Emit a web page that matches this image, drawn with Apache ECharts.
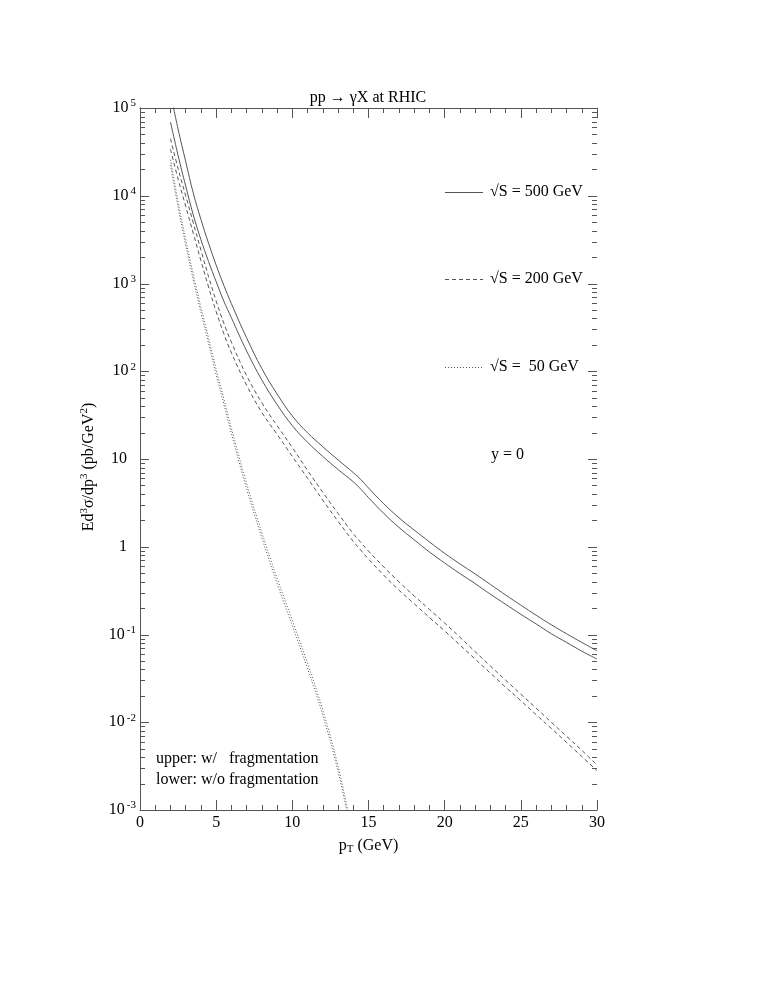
<!DOCTYPE html>
<html lang="en">
<head>
<meta charset="UTF-8">
<title>pp -> gamma X at RHIC</title>
<script src="https://cdn.jsdelivr.net/npm/echarts@6/dist/echarts.min.js"></script>
<style>
  html, body { margin: 0; padding: 0; background: #fff; }
</style>
</head>
<body>
<div id="main" style="width: 758px;height: 981px;"></div>
<script>
// pT grid (GeV) for 500 and 200 GeV curves
var pT = [2, 2.5, 3, 3.5, 4, 4.5, 5, 5.5, 6, 7, 8, 9, 10, 11, 12, 13, 14, 14.5, 15,
          16, 17, 18, 19, 20, 21, 22, 23, 24, 25, 26, 27, 28, 29, 30];
// pT grid for the 50 GeV curves (they leave the frame near 13.6 GeV)
var pT50 = [2, 2.5, 3, 3.5, 4, 4.5, 5, 5.5, 6, 7, 8, 9, 10, 11, 12, 13, 14];

// Ed3sigma/dp3 (pb/GeV^2), upper = with fragmentation, lower = without
var s500Upper = [1.48e5, 5.75e4, 2.45e4, 1.07e4, 5370, 2880, 1620, 955, 589, 240, 107, 55.0,
                 30.9, 19.9, 13.8, 9.77, 7.00, 5.82, 4.68, 3.09, 2.14, 1.55, 1.135, 0.841,
                 0.638, 0.490, 0.372, 0.282, 0.216, 0.166, 0.129, 0.102, 0.0813, 0.0653];
var s500Lower = [6.92e4, 2.88e4, 1.29e4, 6030, 3160, 1780, 1050, 631, 407, 170, 79.4, 41.7,
                 24.0, 15.5, 10.7, 7.59, 5.50, 4.52, 3.63, 2.40, 1.66, 1.20, 0.871, 0.653,
                 0.495, 0.380, 0.288, 0.221, 0.170, 0.132, 0.102, 0.0813, 0.0646, 0.0525];
var s200Upper = [4.47e4, 2.04e4, 1.0e4, 4900, 2400, 1200, 631, 355, 214, 89.1, 43.7, 24.0,
                 13.5, 7.41, 4.17, 2.40, 1.41, 1.12, 0.891, 0.589, 0.398, 0.275, 0.193, 0.135,
                 0.0933, 0.0638, 0.0437, 0.0302, 0.0209, 0.0145, 0.0100, 0.00692, 0.00479, 0.00326];
var s200Lower = [3.39e4, 1.55e4, 7590, 3720, 1820, 912, 479, 269, 162, 69.2, 33.9, 19.1,
                 10.7, 6.03, 3.39, 1.95, 1.15, 0.912, 0.724, 0.474, 0.320, 0.224, 0.156, 0.110,
                 0.0759, 0.0525, 0.0363, 0.0251, 0.0176, 0.0122, 0.00851, 0.00589, 0.00407, 0.00281];
var s50Upper = [2.57e4, 8510, 3160, 1260, 537, 240, 105, 49.0, 22.4, 5.25, 1.45, 0.437,
                0.145, 0.0468, 0.0138, 0.00316, 0.000501];
var s50Lower = [2.24e4, 7410, 2750, 1100, 468, 209, 91.2, 42.7, 19.5, 4.57, 1.26, 0.380,
                0.126, 0.0407, 0.0120, 0.00275, 0.000437];

var xTicks = [0, 5, 10, 15, 20, 25, 30];
var legendNames = ['√S = 500 GeV', '√S = 200 GeV', '√S =  50 GeV'];
var legendDash = ['solid', [4, 3], [1, 2]];

function pairs(xs, ys) {
  var out = [];
  for (var i = 0; i < xs.length; i++) out.push([xs[i], ys[i]]);
  return out;
}

var FONT = '"Liberation Serif", "DejaVu Serif", serif';
var LINE = '#555';

var myChart = echarts.init(document.getElementById('main'));

function mkSeries(name, xs, ys, dash) {
  return {
    name: name,
    type: 'line',
    symbol: 'none',
    smooth: 0.4,
    clip: true,
    animation: false,
    lineStyle: { color: LINE, width: 1, type: dash },
    itemStyle: { color: LINE },
    data: pairs(xs, ys)
  };
}

var yRich = {
  b: { fontFamily: FONT, fontSize: 16, color: '#000' },
  s: { fontFamily: FONT, fontSize: 11, color: '#000', padding: [0, 0, 9, 2] },
  p: { width: 9 }
};

var option = {
  animation: false,
  backgroundColor: '#fff',
  textStyle: { fontFamily: FONT },
  title: {
    text: 'pp → γX at RHIC',
    left: 363,
    top: 85,
    textAlign: 'center',
    textStyle: { fontFamily: FONT, fontSize: 16, fontWeight: 'normal', color: '#000' }
  },
  grid: { left: 140, right: 161, top: 108, bottom: 171 },
  xAxis: [{
    type: 'value',
    min: 0,
    max: 30,
    interval: 5,
    position: 'bottom',
    name: 'p{sub|T} (GeV)',
    nameLocation: 'middle',
    nameGap: 26,
    nameTextStyle: {
      fontFamily: FONT, fontSize: 16, color: '#000',
      rich: { sub: { fontFamily: FONT, fontSize: 11, padding: [8, 0, 0, 0] } }
    },
    axisLine: { show: true, lineStyle: { color: LINE, width: 1 } },
    axisTick: { show: true, inside: true, length: 10, lineStyle: { color: LINE } },
    minorTick: { show: true, splitNumber: 5, length: 5, lineStyle: { color: LINE } },
    splitLine: { show: false },
    axisLabel: {
      margin: 5,
      fontFamily: FONT, fontSize: 16, color: '#000',
      formatter: function (v) { return xTicks.indexOf(v) >= 0 ? String(v) : ''; }
    }
  }, {
    type: 'value',
    min: 0,
    max: 30,
    interval: 5,
    position: 'top',
    axisLine: { show: true, lineStyle: { color: LINE, width: 1 } },
    axisTick: { show: true, inside: true, length: 10, lineStyle: { color: LINE } },
    minorTick: { show: true, splitNumber: 5, length: 5, lineStyle: { color: LINE } },
    splitLine: { show: false },
    axisLabel: { show: false }
  }],
  yAxis: [{
    type: 'log',
    logBase: 10,
    min: 1e-3,
    max: 1e5,
    splitNumber: 8,
    position: 'left',
    name: 'Ed{s|3}σ/dp{s|3} (pb/GeV{s|2})',
    nameLocation: 'middle',
    nameGap: 41,
    nameRotate: 90,
    nameTextStyle: {
      fontFamily: FONT, fontSize: 16, color: '#000',
      padding: [0, 16, 0, 0],
      rich: { s: { fontFamily: FONT, fontSize: 11, padding: [0, 0, 9, 0] } }
    },
    axisLine: { show: true, lineStyle: { color: LINE, width: 1 } },
    axisTick: { show: false },
    splitLine: { show: false },
    axisLabel: {
      margin: 4,
      rich: yRich,
      formatter: function (v) {
        var e = Math.round(Math.log(v) / Math.LN10);
        if (e === 0) return '{b|1}{p|}';
        if (e === 1) return '{b|10}{p|}';
        return '{b|10}{s|' + e + '}';
      }
    }
  }, {
    type: 'log',
    logBase: 10,
    min: 1e-3,
    max: 1e5,
    splitNumber: 8,
    position: 'right',
    axisLine: { show: true, lineStyle: { color: LINE, width: 1 } },
    axisTick: { show: false },
    splitLine: { show: false },
    axisLabel: { show: false }
  }],
  series: [
    mkSeries(legendNames[0], pT, s500Upper, legendDash[0]),
    mkSeries(legendNames[0], pT, s500Lower, legendDash[0]),
    mkSeries(legendNames[1], pT, s200Upper, legendDash[1]),
    mkSeries(legendNames[1], pT, s200Lower, legendDash[1]),
    mkSeries(legendNames[2], pT50, s50Upper, legendDash[2]),
    mkSeries(legendNames[2], pT50, s50Lower, legendDash[2])
  ]
};
myChart.setOption(option);

// frame ticks on the log axis and the key, placed through the chart's own scales
var rect = myChart.getModel().getComponent('grid').coordinateSystem.getRect();
var gfx = [];
function tick(y, len) {
  gfx.push({ type: 'line', silent: true,
    shape: { x1: rect.x, y1: y, x2: rect.x + len, y2: y },
    style: { stroke: LINE, lineWidth: 1 } });
  gfx.push({ type: 'line', silent: true,
    shape: { x1: rect.x + rect.width - len, y1: y, x2: rect.x + rect.width, y2: y },
    style: { stroke: LINE, lineWidth: 1 } });
}
for (var d = -3; d <= 5; d++) {
  tick(Math.round(myChart.convertToPixel({ yAxisIndex: 0 }, Math.pow(10, d))) + 0.5, 9);
  if (d === 5) break;
  for (var k = 2; k <= 9; k++) {
    tick(Math.round(myChart.convertToPixel({ yAxisIndex: 0 }, k * Math.pow(10, d))) + 0.5, 5);
  }
}

function txt(x, y, s) {
  gfx.push({ type: 'text', silent: true, x: x, y: y,
    style: { text: s, font: '16px ' + FONT, fill: '#000', verticalAlign: 'middle', align: 'left' } });
}
var keyY = [192, 279, 367];
for (var i = 0; i < legendNames.length; i++) {
  gfx.push({ type: 'line', silent: true,
    shape: { x1: 445, y1: keyY[i] + 0.5, x2: 483, y2: keyY[i] + 0.5 },
    style: { stroke: LINE, lineWidth: 1, lineDash: legendDash[i] === 'solid' ? null : legendDash[i] } });
  txt(490, keyY[i], legendNames[i]);
}
txt(491, 455, 'y = 0');
txt(156, 759, 'upper: w/   fragmentation');
txt(156, 780, 'lower: w/o fragmentation');

myChart.setOption({ graphic: gfx });
</script>
</body>
</html>
